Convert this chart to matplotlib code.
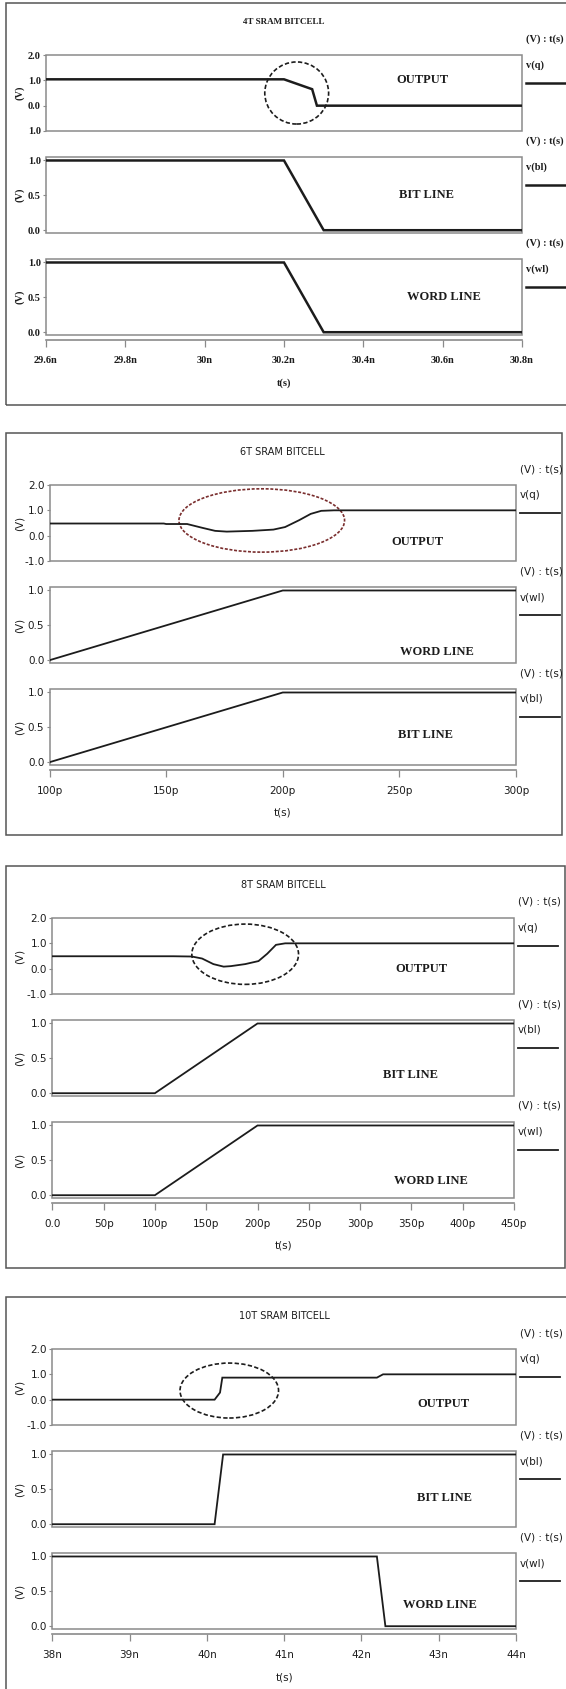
import matplotlib
matplotlib.use("Agg")
import matplotlib.pyplot as plt
from matplotlib.patches import Ellipse, Rectangle
from matplotlib.lines import Line2D

W, H = 566, 1689

## 4T bitcell (time in ns)
t4_out = [29.6, 30.2, 30.271, 30.283, 30.8]
v4_out = [1.04, 1.04, 0.65, 0.0, 0.0]
t4_bl = [29.6, 30.2, 30.3, 30.8]
v4_bl = [1.0, 1.0, 0.0, 0.0]
t4_wl = [29.6, 30.2, 30.3, 30.8]
v4_wl = [1.0, 1.0, 0.0, 0.0]
x4_ticks = [29.6, 29.8, 30.0, 30.2, 30.4, 30.6, 30.8]
x4_labels = ["29.6n", "29.8n", "30n", "30.2n", "30.4n", "30.6n", "30.8n"]

## 6T bitcell (time in ps)
t6_out = [100, 149, 150, 159, 165.5, 171, 176, 187, 196, 201, 207, 212, 216.5, 222, 300]
v6_out = [0.48, 0.48, 0.46, 0.46, 0.31, 0.19, 0.16, 0.19, 0.24, 0.34, 0.61, 0.86, 0.98, 1.0, 1.0]
t6_wl = [100, 200, 300]
v6_wl = [0.0, 1.0, 1.0]
t6_bl = [100, 200, 300]
v6_bl = [0.0, 1.0, 1.0]
x6_ticks = [100, 150, 200, 250, 300]
x6_labels = ["100p", "150p", "200p", "250p", "300p"]

## 8T bitcell (time in ps)
t8_out = [0, 118, 136, 146, 157, 167, 174, 188, 201, 209.5, 218, 227, 450]
v8_out = [0.49, 0.49, 0.48, 0.40, 0.18, 0.08, 0.10, 0.18, 0.30, 0.59, 0.94, 1.0, 1.0]
t8_bl = [0, 100, 200, 450]
v8_bl = [0.0, 0.0, 1.0, 1.0]
t8_wl = [0, 100, 200, 450]
v8_wl = [0.0, 0.0, 1.0, 1.0]
x8_ticks = [0, 50, 100, 150, 200, 250, 300, 350, 400, 450]
x8_labels = ["0.0", "50p", "100p", "150p", "200p", "250p", "300p", "350p", "400p", "450p"]

## 10T bitcell (time in ns)
t10_out = [38, 40.10, 40.17, 40.20, 42.2, 42.28, 44]
v10_out = [0.0, 0.0, 0.28, 0.87, 0.87, 1.0, 1.0]
t10_bl = [38, 40.1, 40.21, 44]
v10_bl = [0.0, 0.0, 1.0, 1.0]
t10_wl = [38, 42.2, 42.31, 44]
v10_wl = [1.0, 1.0, 0.0, 0.0]
x10_ticks = [38, 39, 40, 41, 42, 43, 44]
x10_labels = ["38n", "39n", "40n", "41n", "42n", "43n", "44n"]

## y scales
y_out_ticks = [-1.0, 0.0, 1.0, 2.0]
y_out_labels = ["-1.0", "0.0", "1.0", "2.0"]
y_out_labels_4t = ["1.0", "0.0", "1.0", "2.0"]
y_line_ticks = [0.0, 0.5, 1.0]
y_line_labels = ["0.0", "0.5", "1.0"]

SERIF = ["Liberation Serif", "DejaVu Serif"]
NARROW = ["Liberation Sans Narrow", "DejaVu Sans"]
GRAY = "#8a8a8a"
INK = "#1c1c1c"

BOX_OFFSETS = [52, 154, 256]
BOX_H = 76


def fx(x):
    return x / W


def fy(y):
    return 1 - y / H


def draw_panel(fig, top, frame_right, box_left, box_right, title, xlim, xticks, xlabels,
               rows, ellipse, ell_color, serif_ticks, lw):
    frame = Rectangle((fx(6), fy(top + 402)), fx(frame_right - 6), 402 / H, transform=fig.transFigure,
                      fill=False, ec="#555555", lw=1.1)
    fig.patches.append(frame)
    if serif_ticks:
        font = dict(family=SERIF, fontweight="bold", fontsize=7.5)
        title_font = dict(family=SERIF, fontweight="bold", fontsize=6.5)
    else:
        font = dict(family=NARROW, fontsize=7.5)
        title_font = dict(family=NARROW, fontsize=7)
    xc = (box_left + box_right) / 2
    fig.text(fx(xc), fy(top + 19), title, ha="center", va="center", color=INK, **title_font)
    fig.text(fx(xc), fy(top + 380), "t(s)", ha="center", va="center", color=INK, **font)

    for i, (t, v, text, tx, ty, name, ylim, yticks, ylabels) in enumerate(rows):
        btop = top + BOX_OFFSETS[i]
        ax = fig.add_axes([fx(box_left), fy(btop + BOX_H), (box_right - box_left) / W, BOX_H / H])
        ax.plot(t, v, color=INK, lw=lw, solid_joinstyle="miter")
        ax.set_xlim(xlim)
        ax.set_ylim(ylim)
        for s in ax.spines.values():
            s.set_visible(False)
        if i == 2:
            ## separate time axis just under the last box (set before ticks, it resets them)
            ax.spines["bottom"].set_visible(True)
            ax.spines["bottom"].set_position(("outward", 3.8))
            ax.spines["bottom"].set_color(GRAY)
            ax.spines["bottom"].set_linewidth(1.2)
            ax.set_xticks(xticks, labels=xlabels, color=INK, **font)
            ax.tick_params(axis="x", length=5, width=0.9, color=GRAY, pad=6)
        else:
            ax.tick_params(axis="x", bottom=False, labelbottom=False)
        ax.set_yticks(yticks, labels=ylabels, color=INK, **font)
        ax.tick_params(axis="y", length=2.2, width=0.8, color=GRAY, pad=1.5)
        ax.add_patch(Rectangle((0, 0), 1, 1, transform=ax.transAxes, fill=False, ec=GRAY, lw=1.1, clip_on=False))
        ax.text(tx, ty, text, transform=ax.transAxes, ha="center", va="center",
                family=SERIF, fontweight="bold", fontsize=9, color=INK)
        fig.text(fx(20), fy(btop + BOX_H / 2), "(V)", rotation=90, ha="center", va="center", color=INK, **font)
        fig.text(fx(box_right + 4), fy(btop - 16), "(V) : t(s)", ha="left", va="center", color=INK, **font)
        fig.text(fx(box_right + 4), fy(btop + 10), name, ha="left", va="center", color=INK, **font)
        fig.lines.append(Line2D([fx(box_right + 4), fx(min(box_right + 44, 567))], [fy(btop + 28)] * 2,
                                transform=fig.transFigure, color=INK, lw=lw))
        if i == 0:
            cx, cy, ew, eh = ellipse
            ls = (0, (1.8, 1.0)) if ell_color != INK else (0, (2.6, 1.4))
            ax.add_patch(Ellipse((cx, cy), ew, eh, fill=False, ec=ell_color, lw=1.2, ls=ls, clip_on=False))


def main():
    fig = plt.figure(figsize=(W / 100, H / 100), dpi=100)
    fig.patch.set_facecolor("white")
    out_ylim = (-1.0, 2.0)
    line_ylim = (-0.04, 1.05)

    draw_panel(fig, 3, 568, 46, 522, "4T SRAM BITCELL", (29.6, 30.8), x4_ticks, x4_labels,
               [(t4_out, v4_out, "OUTPUT", 0.79, 0.67, "v(q)", out_ylim, y_out_ticks, y_out_labels_4t),
                (t4_bl, v4_bl, "BIT LINE", 0.80, 0.50, "v(bl)", line_ylim, y_line_ticks, y_line_labels),
                (t4_wl, v4_wl, "WORD LINE", 0.835, 0.50, "v(wl)", line_ylim, y_line_ticks, y_line_labels)],
               (30.232, 0.5, 0.161, 2.45), INK, True, 1.8)

    draw_panel(fig, 433, 562, 49.5, 516, "6T SRAM BITCELL", (100, 300), x6_ticks, x6_labels,
               [(t6_out, v6_out, "OUTPUT", 0.788, 0.25, "v(q)", out_ylim, y_out_ticks, y_out_labels),
                (t6_wl, v6_wl, "WORD LINE", 0.83, 0.14, "v(wl)", line_ylim, y_line_ticks, y_line_labels),
                (t6_bl, v6_bl, "BIT LINE", 0.807, 0.40, "v(bl)", line_ylim, y_line_ticks, y_line_labels)],
               (191, 0.6, 71, 2.5), "#7a2e2e", False, 1.3)

    draw_panel(fig, 866, 565, 52.3, 514, "8T SRAM BITCELL", (0, 450), x8_ticks, x8_labels,
               [(t8_out, v8_out, "OUTPUT", 0.80, 0.33, "v(q)", out_ylim, y_out_ticks, y_out_labels),
                (t8_bl, v8_bl, "BIT LINE", 0.775, 0.28, "v(bl)", line_ylim, y_line_ticks, y_line_labels),
                (t8_wl, v8_wl, "WORD LINE", 0.82, 0.22, "v(wl)", line_ylim, y_line_ticks, y_line_labels)],
               (188, 0.57, 104, 2.38), INK, False, 1.3)

    draw_panel(fig, 1297, 568, 52.3, 516, "10T SRAM BITCELL", (38, 44), x10_ticks, x10_labels,
               [(t10_out, v10_out, "OUTPUT", 0.843, 0.27, "v(q)", out_ylim, y_out_ticks, y_out_labels),
                (t10_bl, v10_bl, "BIT LINE", 0.846, 0.38, "v(bl)", line_ylim, y_line_ticks, y_line_labels),
                (t10_wl, v10_wl, "WORD LINE", 0.836, 0.32, "v(wl)", line_ylim, y_line_ticks, y_line_labels)],
               (40.29, 0.36, 1.275, 2.17), INK, False, 1.3)

    fig.savefig("out.png", dpi=100)


if __name__ == "__main__":
    main()
